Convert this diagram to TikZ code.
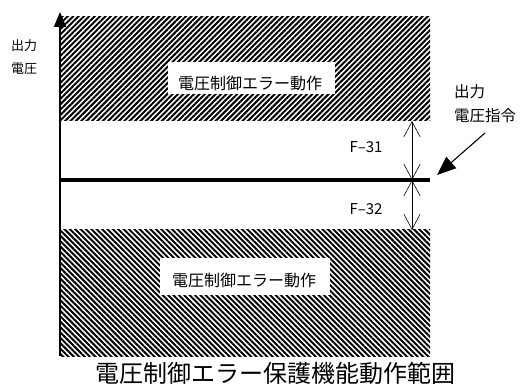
\documentclass[tikz,border=0pt]{standalone}
\usepackage{fontspec}
\setmainfont{Noto Sans CJK JP}
\usetikzlibrary{arrows.meta,patterns.meta}
\begin{document}
\begin{tikzpicture}[x=1pt,y=-1pt,
  hatchup/.style={pattern={Lines[angle=45,distance=3.8pt,line width=2pt]}},
  hatchdown/.style={pattern={Lines[angle=-45,distance=3.8pt,line width=2pt]}},
  zonebox/.style={fill=white,inner sep=0pt},
  zonetext/.style={inner sep=0pt,font=\fontsize{16}{18}\selectfont},
  leftlabel/.style={inner sep=0pt,font=\fontsize{13}{15}\selectfont},
  rightlabel/.style={inner sep=0pt,font=\fontsize{15.5}{17}\selectfont},
  dimlabel/.style={font=\fontsize{15}{17}\selectfont,inner sep=0pt},
  dimarrow/.style={line width=0.6pt,{Straight Barb[length=15pt,width=16pt]}-{Straight Barb[length=15pt,width=16pt]}},
  axisarrow/.style={line width=1.8pt,-{Triangle[length=15pt,width=12pt]}},
  pointer/.style={line width=1.1pt,-{Triangle[length=19pt,width=15pt]}}]
\useasboundingbox (0,0) rectangle (520,385);
% hatched zones
\fill[hatchup] (60,17) rectangle (430,121);
\fill[hatchdown] (60,230) rectangle (430,356);
% coordinates
\coordinate (axb) at (60,356);
\coordinate (axt) at (60,12);
\coordinate (ls) at (60,180);
\coordinate (le) at (430,180);
\coordinate (dt) at (412,121);
\coordinate (dm) at (412,180);
\coordinate (db) at (412,230);
\coordinate (ps) at (485,133);
\coordinate (pe) at (437,175);
% axis and command line
\draw[axisarrow] (axb) -- (axt);
\draw[line width=3.5pt] (ls) -- (le);
% dimension arrows
\draw[dimarrow] (dt) -- (dm);
\draw[dimarrow] (dm) -- (db);
\node[dimlabel] (f31) at (366,147.5) {F–31};
\node[dimlabel] (f32) at (366,209) {F–32};
% zone labels
\node[zonebox,minimum width=167pt,minimum height=32pt] (topbox) at (251.5,78) {};
\node[zonetext] (toptext) at (250,83) {電圧制御エラー動作};
\node[zonebox,minimum width=170pt,minimum height=37pt] (botbox) at (245,276.5) {};
\node[zonetext] (bottext) at (244,280.5) {電圧制御エラー動作};
% side labels
\node[leftlabel,anchor=west] (yl1) at (11,46) {出力};
\node[leftlabel,anchor=west] (yl2) at (11,69) {電圧};
\node[rightlabel,anchor=west] (cmd1) at (454,92) {出力};
\node[rightlabel,anchor=west] (cmd2) at (454,116) {電圧指令};
\draw[pointer] (ps) -- (pe);
\node[font=\fontsize{24}{26}\selectfont,inner sep=0pt] (cap) at (275.5,373) {電圧制御エラー保護機能動作範囲};
\end{tikzpicture}
\end{document}
